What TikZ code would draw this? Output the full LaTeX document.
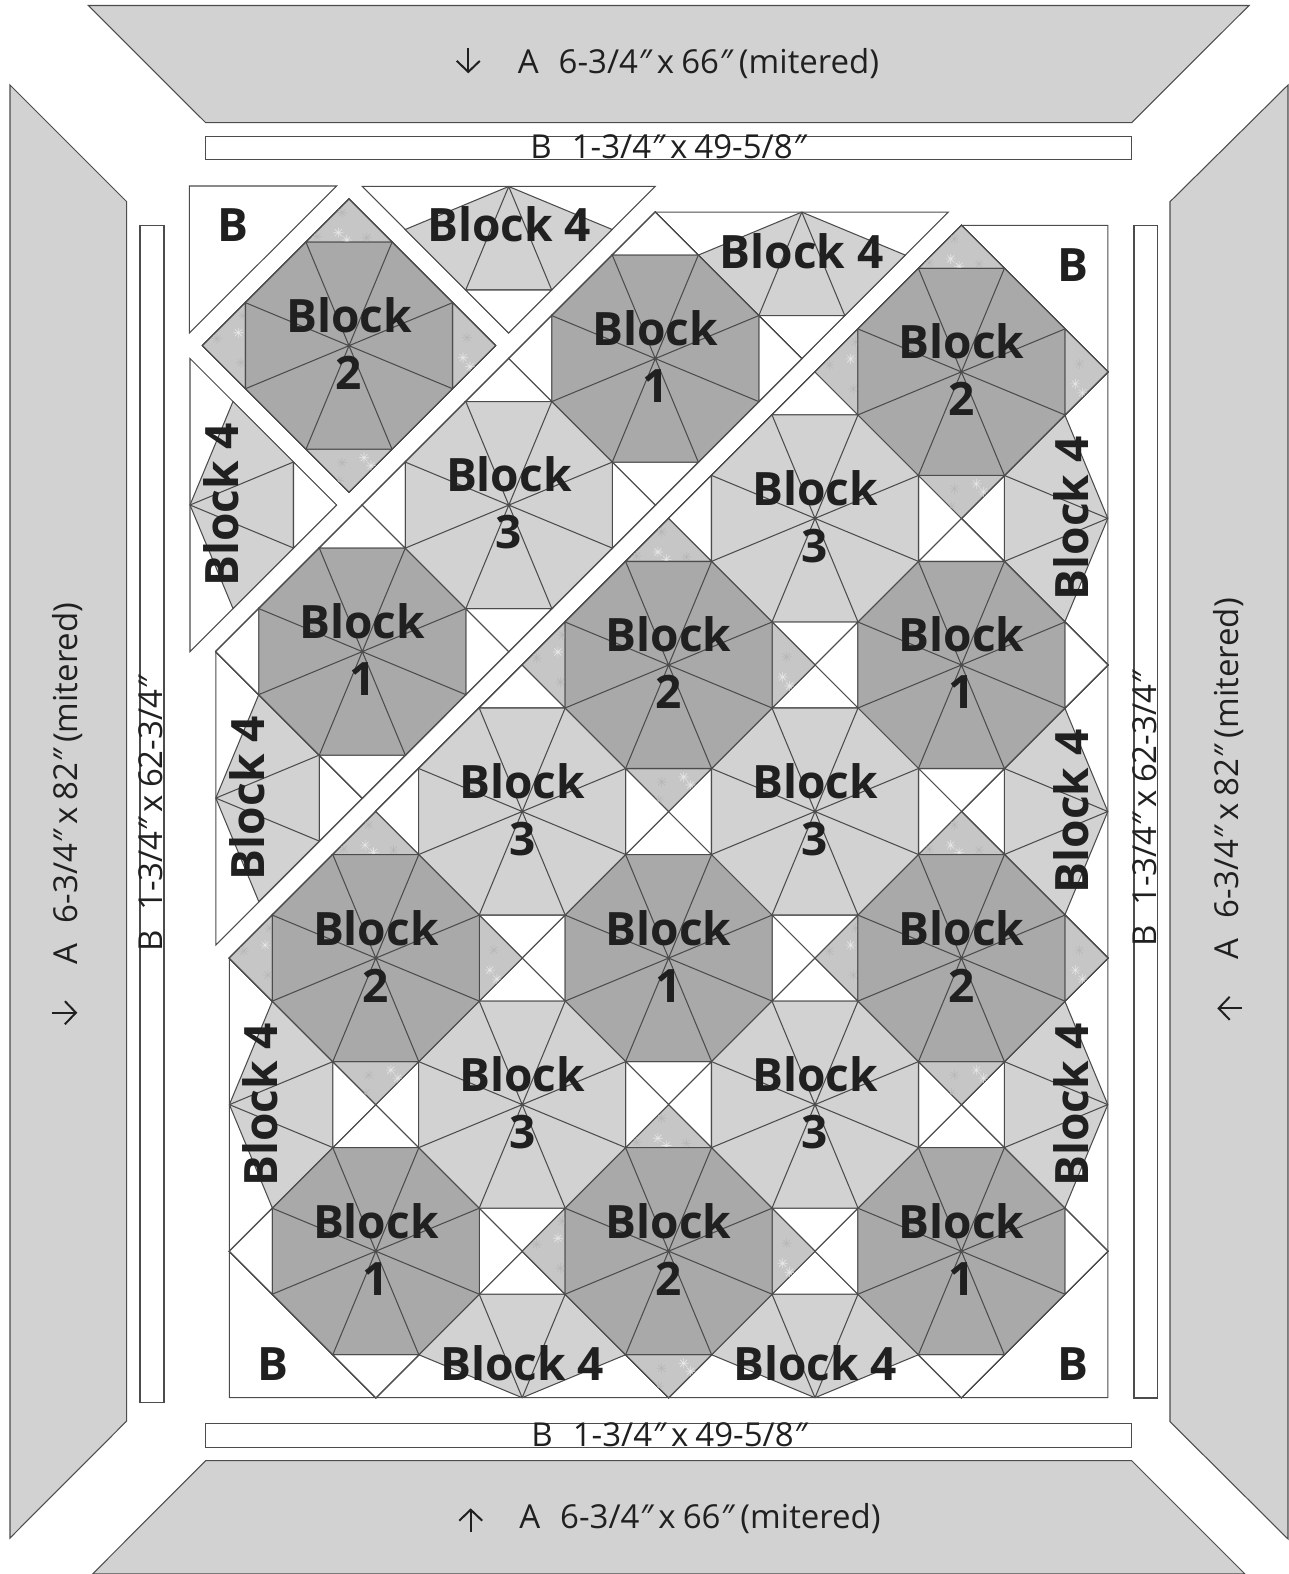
\documentclass[tikz,border=0pt]{standalone}
\usepackage{fontspec}
\setmainfont{Open Sans}
\usetikzlibrary{arrows.meta}
\definecolor{seamgray}{HTML}{4C4C4C}
\definecolor{inkgray}{HTML}{202020}
\definecolor{borderfill}{HTML}{D2D2D2}
\definecolor{lightfill}{HTML}{D2D2D2}
\definecolor{darkfill}{HTML}{A9A9A9}
\definecolor{speckfill}{HTML}{C6C6C6}
\definecolor{speckfaint}{HTML}{B8B8B8}
\definecolor{speckbright}{HTML}{E6E6E6}
\tikzset{
  seam/.style={draw=seamgray,line width=1.05pt,line join=miter},
  borderpiece/.style={seam,fill=borderfill},
  strippiece/.style={draw=seamgray,line width=1.1pt,fill=white},
  blocklabel/.style={text=inkgray,inner sep=0pt,align=center,
    font=\bfseries\fontsize{46}{57}\selectfont},
  edgelabel/.style={text=inkgray,inner sep=0pt,anchor=base,
    font=\bfseries\fontsize{46}{57}\selectfont},
  borderlabel/.style={text=inkgray,inner sep=0pt,anchor=base,
    font=\fontsize{33}{40}\selectfont},
  striplabel/.style={text=inkgray,inner sep=0pt,anchor=base,
    font=\fontsize{33}{40}\selectfont},
  cutarrow/.style={-{Straight Barb[length=11pt,width=23pt,line width=2pt]},
    draw=inkgray,line width=2pt},
  starbright/.style={draw=speckbright,line width=0.6pt},
  starfaint/.style={draw=speckfaint,line width=0.6pt}
}
\newcommand{\inchmark}{\textit{″}}
\newcommand{\octagonpatch}[3]{%
  \begin{scope}[shift={(#1,#2)}]
    \draw[seam,fill=#3] (-43,-103.5)--(43,-103.5)--(103.5,-43)--(103.5,43)
      --(43,103.5)--(-43,103.5)--(-103.5,43)--(-103.5,-43)--cycle;
    \draw[seam] (-43,-103.5)--(43,103.5) (43,-103.5)--(-43,103.5)
      (103.5,-43)--(-103.5,43) (103.5,43)--(-103.5,-43);
  \end{scope}}
\newcommand{\cornerpatches}[3]{%
  \begin{scope}[shift={(#1,#2)}]
    \foreach \turn in {0,90,180,270}
      \draw[seam,fill=#3,rotate=\turn] (-43,-103.5)--(43,-103.5)--(0,-146.5)--cycle;
  \end{scope}}
\newcommand{\speckpatches}[2]{%
  \cornerpatches{#1}{#2}{speckfill}
  \begin{scope}[shift={(#1,#2)}]
    \clip (-43,-103.5)--(43,-103.5)--(0,-146.5)--cycle
      (43,103.5)--(-43,103.5)--(0,146.5)--cycle
      (-103.5,-43)--(-103.5,43)--(-146.5,0)--cycle
      (103.5,43)--(103.5,-43)--(146.5,0)--cycle;
    \foreach \sx/\sy/\sk in {-10.7/-113/starbright,-7/-133/starfaint,-2.3/-105.7/starbright,
        17.7/-108/starfaint,-32/-109/starfaint,
        -110.7/-13/starbright,-132/-7/starfaint,-108/17/starfaint,-106/-30/starfaint,
        114/12/starbright,118/-8/starfaint,121/21/starbright,
        15/112/starbright,-7/117/starfaint,22/120/starbright,-10/135/starfaint}
      \draw[\sk] (\sx-5,\sy)--(\sx+5,\sy) (\sx,\sy-5)--(\sx,\sy+5)
        (\sx-3.5,\sy-3.5)--(\sx+3.5,\sy+3.5) (\sx-3.5,\sy+3.5)--(\sx+3.5,\sy-3.5);
  \end{scope}}
\newcommand{\halfpatch}[3]{%
  \begin{scope}[shift={(#1,#2)},rotate=#3]
    \draw[seam,fill=lightfill] (0,0)--(-103.5,43)--(-43,103.5)--(43,103.5)--(103.5,43)--cycle;
    \draw[seam] (0,0)--(-43,103.5) (0,0)--(43,103.5);
    \draw[seam,fill=white] (-43,103.5)--(43,103.5)--(0,146.5)--cycle;
  \end{scope}}
\begin{document}
\begin{tikzpicture}[x=1pt,y=-1pt]
  \useasboundingbox (0,0) rectangle (1288,1574);
  \draw[borderpiece] (88.3,5.5)--(1249,5.5)--(1131.7,122.7)--(205.7,122.7)--cycle;
  \draw[borderpiece] (205.7,1460.7)--(1131.7,1460.7)--(1245,1574)--(92.5,1574)--cycle;
  \draw[borderpiece] (10,85)--(126.7,201.7)--(126.7,1421)--(10,1538)--cycle;
  \draw[borderpiece] (1288,85)--(1170,201.7)--(1170,1421.7)--(1288,1539)--cycle;
  \draw[strippiece] (205.7,136.3) rectangle (1131.7,159.6);
  \draw[strippiece] (205.7,1423.7) rectangle (1131.7,1447.7);
  \draw[strippiece] (140,225.3) rectangle (164,1402.5);
  \draw[strippiece] (1134,225.3) rectangle (1157.7,1398);
  \draw[seam,fill=white] (189.3,186)--(336.7,186)--(189.3,333)--cycle;
  \draw[seam,fill=white] (362.2,186.3)--(655.2,186.3)--(508.7,333)--cycle;
  \draw[seam,fill=white] (190,358.5)--(336.5,505)--(190,651.5)--cycle;
  \draw[seam,fill=white] (215.8,651.6)--(655.3,212.1)--(948.3,212.1)--(215.8,945.1)--cycle;
  \draw[seam,fill=white] (229.4,958.1)--(961.4,225.3)--(1107.8,225.3)--(1107.8,1397.7)--(229.4,1397.7)--cycle;
  \foreach \cx/\cy/\turn in {508.7/186.5/0,190/505/90,801.8/212.1/0,215.8/798.1/90,
      1107.8/518.4/-90,1107.8/811.5/-90,1107.8/1104.6/-90,229.4/1104.6/90,
      522.2/1397.7/180,815/1397.7/180}
    \halfpatch{\cx}{\cy}{\turn}
  \foreach \cx/\cy in {362.3/651.6,655.3/358.6,668.6/958.1,961.4/665,375.8/1251.2,961.4/1251.2}{
    \cornerpatches{\cx}{\cy}{white}
    \octagonpatch{\cx}{\cy}{darkfill}
  }
  \foreach \cx/\cy in {508.8/505.1,815/518.4,522.2/811.5,815/811.5,522.2/1104.6,815/1104.6}{
    \cornerpatches{\cx}{\cy}{white}
    \octagonpatch{\cx}{\cy}{lightfill}
  }
  \foreach \cx/\cy in {349/345.7,961.4/371.9,668.6/665,375.8/958.1,961.4/958.1,668.6/1251.2}{
    \speckpatches{\cx}{\cy}
    \octagonpatch{\cx}{\cy}{darkfill}
  }
  \foreach \cx/\cy [count=\i] in {362.3/651.6,655.3/358.6,668.6/958.1,961.4/665,375.8/1251.2,961.4/1251.2}
    \node[blocklabel] (blockone\i) at (\cx,\cy-2) {Block\\1};
  \foreach \cx/\cy [count=\i] in {349/345.7,961.4/371.9,668.6/665,375.8/958.1,961.4/958.1,668.6/1251.2}
    \node[blocklabel] (blocktwo\i) at (\cx,\cy-2) {Block\\2};
  \foreach \cx/\cy [count=\i] in {508.8/505.1,815/518.4,522.2/811.5,815/811.5,522.2/1104.6,815/1104.6}
    \node[blocklabel] (blockthree\i) at (\cx,\cy-2) {Block\\3};
  \foreach \cx/\cy [count=\i] in {509/241.5,801.8/268,522.2/1380.5,815/1380.5}
    \node[edgelabel] (blockfourup\i) at (\cx,\cy) {Block 4};
  \foreach \cx/\cy [count=\i] in {238/505,264/798.1,277.5/1104.6,1088/518.4,1088/811.5,1088/1104.6}
    \node[edgelabel,rotate=90] (blockfourside\i) at (\cx,\cy) {Block 4};
  \foreach \cx/\cy [count=\i] in {233.3/241,1073/281,272.5/1380,1073/1380}
    \node[edgelabel] (cornerb\i) at (\cx,\cy) {B};
  \node[borderlabel] (toplabel) at (698.5,73.3) {A\hspace{20pt}6-3/4\inchmark\hspace{4pt}x\hspace{7pt}66\inchmark\hspace{5pt}(mitered)};
  \node[borderlabel] (bottomlabel) at (700,1528.3) {A\hspace{20pt}6-3/4\inchmark\hspace{4pt}x\hspace{7pt}66\inchmark\hspace{5pt}(mitered)};
  \node[borderlabel,rotate=90] (leftlabel) at (77.3,783.3) {A\hspace{20pt}6-3/4\inchmark\hspace{4pt}x\hspace{7pt}82\inchmark\hspace{5pt}(mitered)};
  \node[borderlabel,rotate=90] (rightlabel) at (1238.3,778.8) {A\hspace{20pt}6-3/4\inchmark\hspace{4pt}x\hspace{7pt}82\inchmark\hspace{5pt}(mitered)};
  \node[striplabel] (topstrip) at (669,158.3) {B\hspace{20pt}1-3/4\inchmark\hspace{4pt}x\hspace{7pt}49-5/8\inchmark};
  \node[striplabel] (bottomstrip) at (670,1446.7) {B\hspace{20pt}1-3/4\inchmark\hspace{4pt}x\hspace{7pt}49-5/8\inchmark};
  \node[striplabel,rotate=90] (leftstrip) at (162.7,813.3) {B\hspace{20pt}1-3/4\inchmark\hspace{4pt}x\hspace{7pt}62-3/4\inchmark};
  \node[striplabel,rotate=90] (rightstrip) at (1156,808.3) {B\hspace{20pt}1-3/4\inchmark\hspace{4pt}x\hspace{7pt}62-3/4\inchmark};
  \coordinate (topfrom) at (468.3,48.3);
  \coordinate (topto) at (468.3,73.3);
  \coordinate (bottomfrom) at (470.7,1532.3);
  \coordinate (bottomto) at (470.7,1508.3);
  \coordinate (leftfrom) at (51.7,1012.7);
  \coordinate (leftto) at (77.3,1012.7);
  \coordinate (rightfrom) at (1241.7,1008.3);
  \coordinate (rightto) at (1217.3,1008.3);
  \draw[cutarrow] (topfrom)--(topto);
  \draw[cutarrow] (bottomfrom)--(bottomto);
  \draw[cutarrow] (leftfrom)--(leftto);
  \draw[cutarrow] (rightfrom)--(rightto);
\end{tikzpicture}
\end{document}
